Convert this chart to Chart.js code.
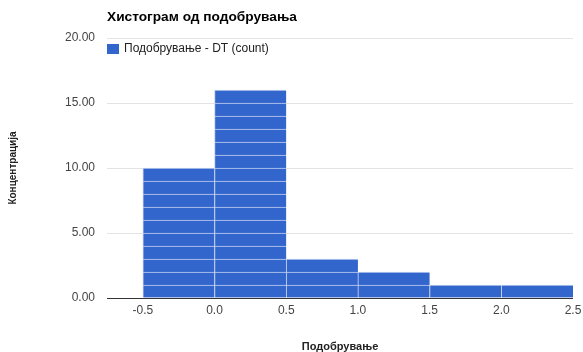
<!DOCTYPE html>
<html lang="mk">
<head>
  <meta charset="UTF-8">
  <title>Хистограм од подобрувања</title>
  <script src="https://cdn.jsdelivr.net/npm/chart.js@4.4.0/dist/chart.umd.min.js"></script>
  <style>
    body { margin: 0; background: #fff; font-family: Arial, "Liberation Sans", sans-serif; }
    .wrap { width: 583px; height: 352px; position: relative; }
  </style>
</head>
<body>
  <div class="wrap"><canvas id="histChart"></canvas></div>

  <script>
    // histogram bins (centre of each 0.5 wide bin) and counts
    const binCenters = [-0.25, 0.25, 0.75, 1.25, 1.75, 2.25];
    const binCounts = [10, 16, 3, 2, 1, 1];
    const xTicks = [-0.5, 0, 0.5, 1, 1.5, 2, 2.5];
    const yTicks = [0, 5, 10, 15, 20];

    const chartTitle = 'Хистограм од подобрувања';
    const seriesName = 'Подобрување - DT (count)';
    const xTitle = 'Подобрување';
    const yTitle = 'Концентрација';

    const barColor = '#3366cc';

    // each count is drawn as a stack of single units, one dataset per level
    const maxCount = Math.max(...binCounts);
    const datasets = [];
    for (let k = 0; k < maxCount; k++) {
      datasets.push({
        label: seriesName,
        data: binCenters.map((x, i) => ({ x: x, y: binCounts[i] > k ? 1 : null })),
        backgroundColor: barColor,
        borderColor: '#c3d1f0',
        borderWidth: { top: 1, left: 1, right: 0, bottom: 0 },
        borderSkipped: false,
        barPercentage: 1,
        categoryPercentage: 1
      });
    }

    const headerPlugin = {
      id: 'header',
      afterDraw(chart) {
        const ctx = chart.ctx;
        const area = chart.chartArea;
        ctx.save();
        ctx.fillStyle = '#000';
        ctx.font = 'bold 13.7px Arial, "Liberation Sans", sans-serif';
        ctx.textBaseline = 'middle';
        ctx.textAlign = 'left';
        ctx.fillText(chartTitle, area.left, 17);

        ctx.fillStyle = barColor;
        ctx.fillRect(area.left, 44, 12, 10);
        ctx.fillStyle = '#222';
        ctx.font = '12px Arial, "Liberation Sans", sans-serif';
        ctx.fillText(seriesName, area.left + 17, 49);
        ctx.restore();
      }
    };

    new Chart(document.getElementById('histChart'), {
      type: 'bar',
      data: { datasets: datasets },
      plugins: [headerPlugin],
      options: {
        responsive: true,
        maintainAspectRatio: false,
        animation: false,
        layout: { padding: { left: 0, top: 38, right: 10, bottom: 0 } },
        plugins: {
          legend: { display: false },
          tooltip: { enabled: false }
        },
        scales: {
          x: {
            type: 'linear',
            stacked: true,
            min: -0.75,
            max: 2.5,
            offset: false,
            afterBuildTicks(scale) { scale.ticks = xTicks.map(v => ({ value: v })); },
            afterFit(scale) {
              scale.height = 54;
              scale.paddingLeft = 0;
              scale.paddingRight = 0;
            },
            grid: { display: false, drawTicks: false },
            border: { display: false },
            ticks: {
              padding: 5,
              color: '#444',
              font: { family: 'Arial, "Liberation Sans", sans-serif', size: 12 },
              callback: v => v.toFixed(1)
            },
            title: {
              display: true,
              text: xTitle,
              color: '#222',
              padding: { top: 0, bottom: 0 },
              font: { family: 'Arial, "Liberation Sans", sans-serif', size: 11, weight: 'bold', lineHeight: 1 }
            }
          },
          y: {
            stacked: true,
            min: 0,
            max: 20,
            afterBuildTicks(scale) { scale.ticks = yTicks.map(v => ({ value: v })); },
            afterFit(scale) { scale.width = 107; },
            grid: {
              drawTicks: false,
              color: ctx => ctx.tick && ctx.tick.value === 0 ? '#333' : '#e3e3e3'
            },
            border: { display: false },
            ticks: {
              padding: 12,
              color: '#444',
              font: { family: 'Arial, "Liberation Sans", sans-serif', size: 12 },
              callback: v => v.toFixed(2)
            },
            title: {
              display: true,
              text: yTitle,
              color: '#222',
              padding: { top: 7, bottom: 0 },
              font: { family: 'Arial, "Liberation Sans", sans-serif', size: 10, weight: 'bold' }
            }
          }
        }
      }
    });
  </script>
</body>
</html>
